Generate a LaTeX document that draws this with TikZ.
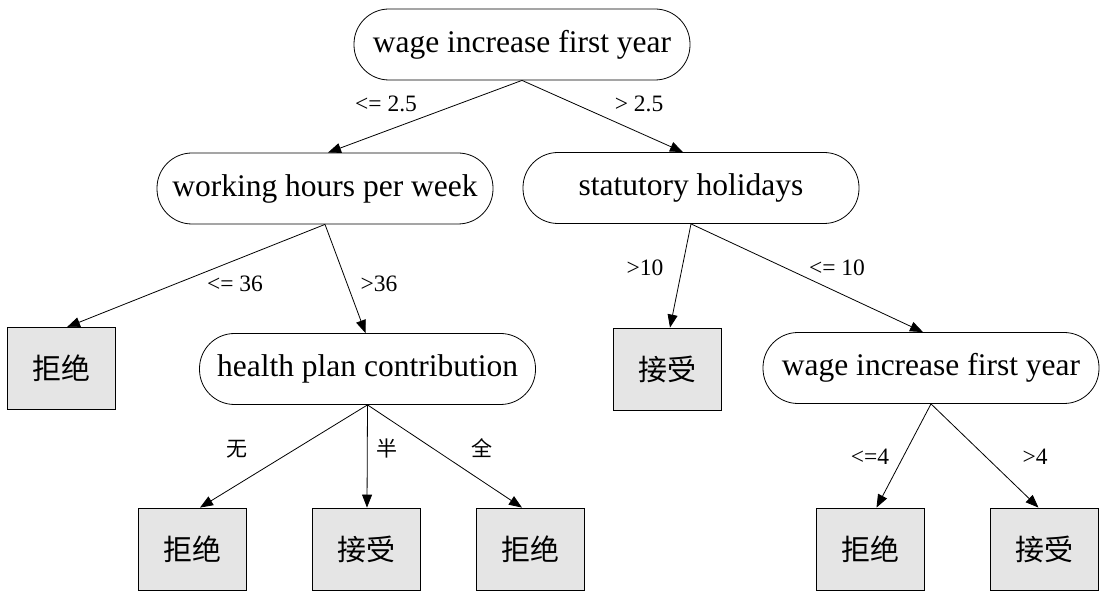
\documentclass[tikz,border=0pt]{standalone}
\usepackage{fontspec}
\setmainfont{Liberation Serif}
\newfontfamily\cjk{Noto Sans CJK SC}
\usetikzlibrary{arrows.meta}
\begin{document}
\begin{tikzpicture}[x=1pt,y=-1pt,
  dec/.style={draw, line width=0.8pt, rounded corners=35pt, minimum width=336pt, minimum height=71pt, inner sep=0pt, font=\fontsize{31.5}{36}\selectfont},
  leaf/.style={draw, line width=0.8pt, fill=black!10, minimum width=108pt, minimum height=82pt, inner sep=0pt, font=\cjk\fontsize{29}{34}\selectfont},
  lbl/.style={inner sep=0pt, font=\fontsize{23.5}{26}\selectfont},
  clbl/.style={inner sep=0pt, font=\cjk\fontsize{21}{24}\selectfont},
  conn/.style={draw, line width=0.8pt, -{Triangle[length=13pt,width=10pt]}}]
\useasboundingbox (0,0) rectangle (1114,593);
% decision nodes
\node[dec] (root)   at (522,44.5) {wage increase first year};
\node[dec] (work)   at (325,188.5) {working hours per week};
\node[dec] (stat)   at (691,188) {statutory holidays};
\node[dec] (health) at (367.5,369) {health plan contribution};
\node[dec] (wage)   at (931,368) {wage increase first year};
% leaves
\node[leaf] (l1) at (61,368.5) {拒绝};
\node[leaf] (l2) at (667,369) {接受};
\node[leaf] (l3) at (192,549) {拒绝};
\node[leaf] (l4) at (366.5,549) {接受};
\node[leaf] (l5) at (530,549) {拒绝};
\node[leaf] (l6) at (870.5,549) {拒绝};
\node[leaf] (l7) at (1044.5,549) {接受};
% connectors
\draw[conn] (root.south) -- ([xshift=3pt]work.north);
\draw[conn] (root.south) -- ([xshift=-8pt]stat.north);
\draw[conn] (work.south) -- ([xshift=6pt]l1.north);
\draw[conn] (work.south) -- ([xshift=-2pt]health.north);
\draw[conn] (stat.south) -- ([xshift=3pt]l2.north);
\draw[conn] (stat.south) -- ([xshift=-8pt]wage.north);
\draw[conn] (health.south) -- ([xshift=8pt]l3.north);
\draw[conn] (health.south) -- ([xshift=0.5pt]l4.north);
\draw[conn] (health.south) -- ([xshift=-8pt]l5.north);
\draw[conn] (wage.south) -- ([xshift=6pt]l6.north);
\draw[conn] (wage.south) -- ([xshift=-6pt]l7.north);
% edge labels
\node[lbl] (e1) at (386,104) {<= 2.5};
\node[lbl] (e2) at (639,104) {> 2.5};
\node[lbl] (e3) at (235,284) {<= 36};
\node[lbl] (e4) at (379,284) {>36};
\node[lbl] (e5) at (645,268) {>10};
\node[lbl] (e6) at (837,268) {<= 10};
\node[clbl] (e7) at (237,449) {无};
\node[clbl] (e8) at (387,448) {半};
\node[clbl] (e9) at (482,448) {全};
\node[lbl] (e10) at (870,457) {<=4};
\node[lbl] (e11) at (1035,457) {>4};
\end{tikzpicture}
\end{document}
